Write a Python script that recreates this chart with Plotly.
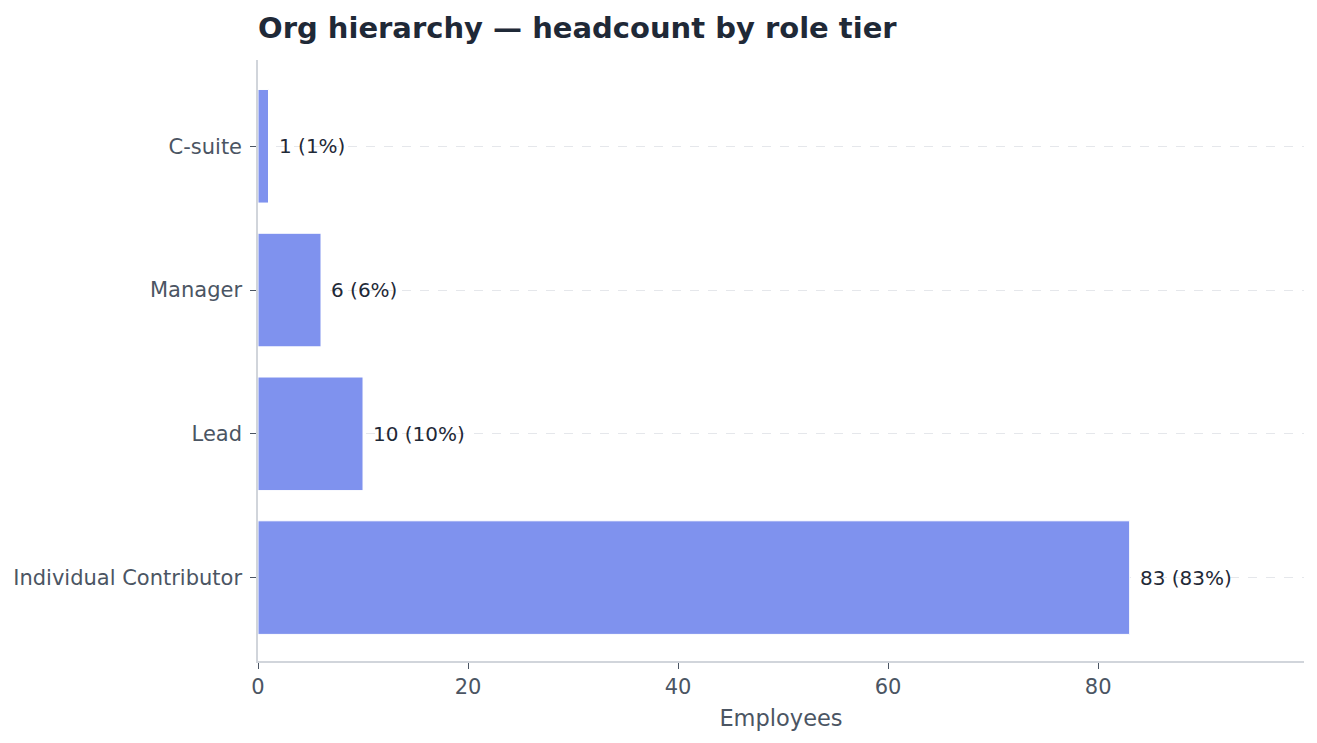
import plotly.graph_objects as go

# Datos
tiers = ["Individual Contributor", "Lead", "Manager", "C-suite"]
headcount = [83, 10, 6, 1]

total = sum(headcount)
labels = [f"{v} ({round(v / total * 100)}%)" for v in headcount]

fig = go.Figure()
fig.add_trace(go.Bar(
    y=tiers,
    x=headcount,
    orientation="h",
    width=0.79,
    marker=dict(color="#7f92ee", line=dict(color="white", width=1)),
    hoverinfo="x+y",
))

# Etiquetas de valor a la derecha de cada barra
for tier, v, lab in zip(tiers, headcount, labels):
    fig.add_annotation(
        x=v, y=tier, text=lab,
        xanchor="left", yanchor="middle",
        xshift=8, showarrow=False,
        font=dict(size=20, color="#1f2937"),
    )

fig.update_layout(
    paper_bgcolor="white",
    plot_bgcolor="white",
    font=dict(family="DejaVu Sans", color="#4b5563"),
    title=dict(
        text="<b>Org hierarchy — headcount by role tier</b>",
        x=0, xref="paper", xanchor="left",
        y=0.9725, yanchor="middle",
        font=dict(size=29, color="#1f2937"),
    ),
    margin=dict(l=247, r=5, t=52, b=74),
    showlegend=False,
)

fig.update_xaxes(
    range=[0, max(headcount) * 1.2],
    showgrid=False,
    zeroline=False,
    showline=True, linecolor="#d1d5db", linewidth=1.5,
    ticks="outside", ticklen=6, tickcolor="#4b5563",
    tickfont=dict(size=21, color="#4b5563"),
    title=dict(text="Employees", font=dict(size=22.5, color="#4b5563"), standoff=12),
    dtick=20,
)
fig.update_yaxes(
    range=[-0.58, 3.6],
    showgrid=True, gridcolor="#e5e7eb", griddash="dash", gridwidth=1,
    zeroline=False,
    showline=True, linecolor="#d1d5db", linewidth=1.5,
    ticks="outside", ticklen=6, tickcolor="#4b5563",
    ticklabelstandoff=4,
    tickfont=dict(size=21, color="#4b5563"),
)

fig.write_html("out.html")
